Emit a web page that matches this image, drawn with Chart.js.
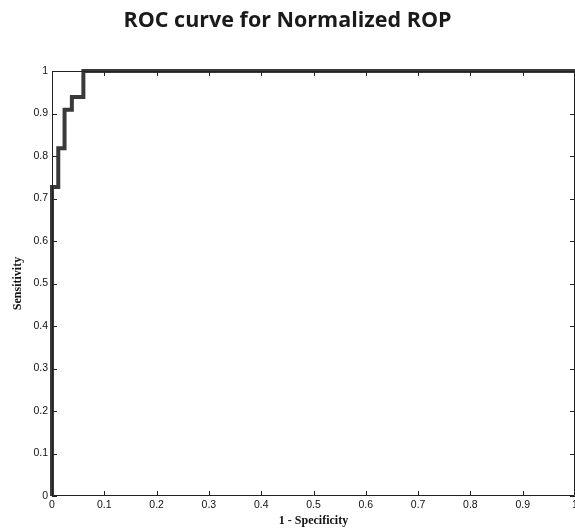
<!DOCTYPE html>
<html>
<head>
<meta charset="utf-8">
<script src="https://cdn.jsdelivr.net/npm/chart.js@4/dist/chart.umd.min.js"></script>
<style>
html,body{margin:0;padding:0;background:#fff;}
#wrap{width:575px;height:531px;position:relative;}
</style>
</head>
<body>
<div id="wrap"><canvas id="c" width="575" height="531"></canvas></div>
<script>
const fpr = [0, 0, 0.012, 0.012, 0.024, 0.024, 0.038, 0.038, 0.06, 0.06, 1];
const tpr = [0, 0.727, 0.727, 0.818, 0.818, 0.909, 0.909, 0.939, 0.939, 1, 1];
const tickValues = [0, 0.1, 0.2, 0.3, 0.4, 0.5, 0.6, 0.7, 0.8, 0.9, 1];
const tickLabels = ['0', '0.1', '0.2', '0.3', '0.4', '0.5', '0.6', '0.7', '0.8', '0.9', '1'];

const points = fpr.map((x, i) => ({x: x, y: tpr[i]}));

const boxTicks = {
  id: 'boxTicks',
  afterDraw(chart) {
    const ctx = chart.ctx;
    const a = chart.chartArea;
    const xs = chart.scales.x, ys = chart.scales.y;
    ctx.save();
    ctx.strokeStyle = '#222';
    ctx.lineWidth = 1;
    ctx.beginPath();
    ctx.rect(a.left + 0.5, a.top + 0.5, a.right - a.left - 1, a.bottom - a.top - 1);
    ctx.stroke();
    const L = 5;
    ctx.beginPath();
    tickValues.forEach(v => {
      const px = Math.round(xs.getPixelForValue(v)) + 0.5;
      ctx.moveTo(px, a.bottom); ctx.lineTo(px, a.bottom - L);
      ctx.moveTo(px, a.top); ctx.lineTo(px, a.top + L);
      const py = Math.round(ys.getPixelForValue(v)) + 0.5;
      ctx.moveTo(a.left, py); ctx.lineTo(a.left + L, py);
      ctx.moveTo(a.right, py); ctx.lineTo(a.right - L, py);
    });
    ctx.stroke();
    ctx.restore();
  }
};

function labelFor(value) {
  const i = tickValues.findIndex(v => Math.abs(v - value) < 1e-9);
  return i >= 0 ? tickLabels[i] : '';
}

new Chart(document.getElementById('c'), {
  type: 'scatter',
  data: {
    datasets: [{
      data: points,
      showLine: true,
      borderColor: '#3a3a3a',
      borderWidth: 4,
      pointRadius: 0,
      tension: 0,
      fill: false,
      clip: false
    }]
  },
  options: {
    responsive: false,
    animation: false,
    layout: {padding: 0},
    plugins: {
      legend: {display: false},
      tooltip: {enabled: false},
      title: {
        display: true,
        text: 'ROC curve for Normalized ROP',
        color: '#1a1a1a',
        font: {family: 'Open Sans', size: 21.5, weight: 'bold'},
        padding: {top: 8, bottom: 37.2}
      }
    },
    scales: {
      x: {
        type: 'linear',
        min: 0, max: 1,
        afterFit(s) { s.height = 35; s.paddingLeft = 0; s.paddingRight = 0; },
        afterBuildTicks(s) { s.ticks = tickValues.map(v => ({value: v})); },
        grid: {display: false, drawTicks: false},
        border: {display: false},
        ticks: {
          color: '#111', padding: 3, maxRotation: 0, autoSkip: false,
          font: {family: 'Liberation Sans', size: 10.5},
          callback: (v) => labelFor(v)
        },
        title: {
          display: true, text: '1 - Specificity', color: '#111',
          font: {family: 'Liberation Serif', size: 12, weight: 'bold'},
          padding: {top: 0, bottom: 3}
        }
      },
      y: {
        type: 'linear',
        min: 0, max: 1,
        afterFit(s) { s.width = 52; s.paddingTop = 0; s.paddingBottom = 0; },
        afterBuildTicks(s) { s.ticks = tickValues.map(v => ({value: v})); },
        grid: {display: false, drawTicks: false},
        border: {display: false},
        ticks: {
          color: '#111', padding: 4, autoSkip: false,
          font: {family: 'Liberation Sans', size: 10.5},
          callback: (v) => labelFor(v)
        },
        title: {
          display: true, text: 'Sensitivity', color: '#111',
          font: {family: 'Liberation Serif', size: 12, weight: 'bold'},
          padding: {top: 11, bottom: 0}
        }
      }
    }
  },
  plugins: [boxTicks]
});
</script>
</body>
</html>
